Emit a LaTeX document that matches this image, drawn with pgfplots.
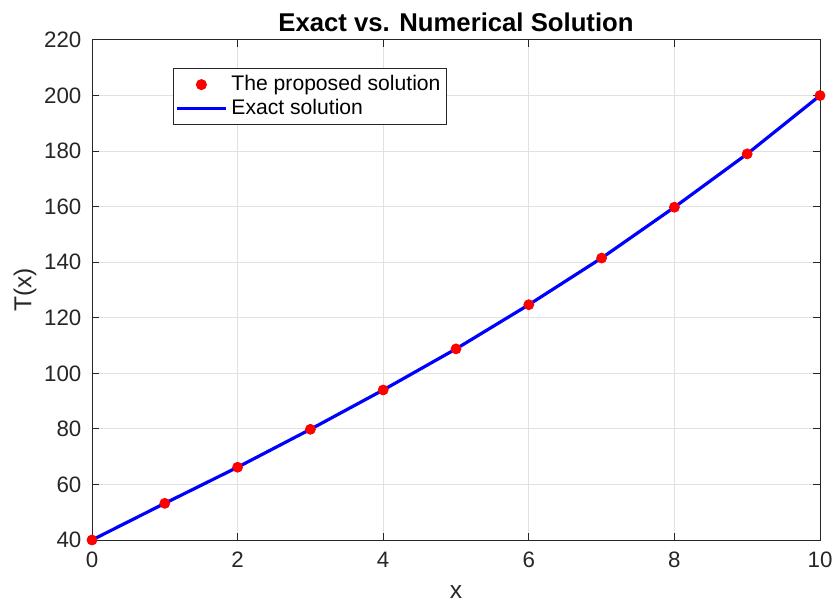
\documentclass[border=0pt]{standalone}
\usepackage{pgfplots}
\pgfplotsset{compat=1.18}
\usepackage{fontspec}
\setmainfont{Liberation Sans}
\definecolor{axgray}{RGB}{38,38,38}
\definecolor{gridgray}{RGB}{225,225,225}
\pgfplotsset{
  mylineleg/.style={legend image code/.code={\draw[##1] (0bp,0bp) -- (24.5bp,0bp);}},
  mymarkleg/.style={legend image code/.code={\draw[##1] plot coordinates {(12.25bp,0bp)};}},
}
\pgfplotstableread{
x T
0 40
1 53.2
2 66.2
3 79.85
4 94.0
5 108.8
6 124.7
7 141.5
8 159.8
9 179.0
10 200
}\datatable
\begin{document}
\begin{tikzpicture}
\begin{axis}[
  scale only axis, width=364bp, height=250bp,
  xmin=0, xmax=10, ymin=40, ymax=220,
  xtick={0,2,...,10}, ytick={40,60,...,220},
  grid=major, major grid style={gridgray, line width=0.5bp},
  axis line style={axgray, line width=0.5bp},
  tick style={axgray, line width=0.5bp},
  tick align=inside, major tick length=3.6bp,
  /pgf/number format/assume math mode=true,
  tick label style={font=\fontsize{11.2}{13}\selectfont, text=axgray},
  xticklabel style={yshift=-2.5bp},
  yticklabel style={xshift=-1.8bp},
  xlabel={x}, ylabel={T(x)},
  label style={font=\fontsize{12.3}{14}\selectfont, text=axgray},
  xlabel style={at={(axis description cs:0.5,-0.104)}, anchor=center},
  ylabel style={at={(axis description cs:-0.092,0.5)}, anchor=center},
  title={\textbf{Exact vs. Numerical Solution}},
  title style={at={(axis description cs:0.5,1.012)}, anchor=center, font=\fontsize{12.9}{14}\selectfont},
  legend style={at={(axis description cs:0.111,0.944)}, anchor=north west,
    draw=axgray, line width=0.5bp, fill=white, font=\fontsize{10.6}{12}\selectfont,
    inner xsep=1bp, inner ysep=1.5bp, row sep=-1.3bp},
  legend cell align=left,
]
\addplot[only marks, mark=*, color=red, mark size=2.5bp, mymarkleg] table[x=x,y=T]{\datatable};
\addlegendentry{The proposed solution}
\addplot[color=blue, line width=1.6bp, mark=none, mylineleg] table[x=x,y=T]{\datatable};
\addlegendentry{Exact solution}
\end{axis}
\pgfresetboundingbox
\useasboundingbox (-46bp,-31bp) rectangle (371.5bp,270bp);
\end{tikzpicture}
\end{document}
